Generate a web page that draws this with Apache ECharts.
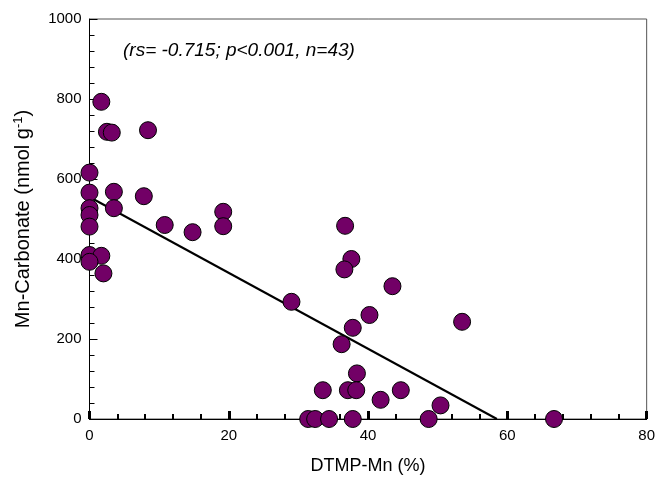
<!DOCTYPE html>
<html>
<head>
<meta charset="utf-8">
<script src="https://cdn.jsdelivr.net/npm/echarts@6/dist/echarts.min.js"></script>
<style>
  html, body { margin: 0; padding: 0; background: #fff; }
  #chart { width: 658px; height: 481px; }
</style>
</head>
<body>
<div id="chart"></div>
<script>
// DTMP-Mn (%) vs Mn-Carbonate (nmol g-1)
const dtmpMn = [
  1.7, 2.5, 3.2, 8.4, 0, 0, 3.5, 7.8, 0, 3.5, 0, 0, 10.8, 14.8, 19.2, 19.2, 36.7,
  0, 1.7, 0, 2.0, 29.0, 36.2, 37.6, 36.6, 43.5, 40.2, 53.5, 37.8, 38.4,
  33.5, 37.1, 38.3, 44.7, 41.8, 50.4,
  31.4, 32.4, 34.4, 37.8, 48.7, 66.7
]
const mnCarbonate = [
  793, 718, 716, 722, 616, 566, 568, 557, 527, 527, 510, 481, 485, 467, 518, 482, 483,
  410, 408, 393, 364, 293, 187, 400, 374, 332, 260, 243, 228, 114,
  72, 72, 72, 72, 48, 34,
  0, 0, 0, 0, 0, 0
]
// regression line end points
const fitX = [0, 58.5]
const fitY = [555, 0]

const chart = echarts.init(document.getElementById('chart'))

const font = 'Liberation Sans, Arial, sans-serif'
const axisText = { color: '#000', fontSize: 15, fontFamily: font }

const option = {
  animation: false,
  grid: {
    left: 89.5,
    right: 6.5,
    top: 19,
    bottom: 62,
    show: true,
    borderColor: '#555',
    borderWidth: 1
  },
  graphic: [{
    type: 'text',
    left: 123,
    top: 41,
    style: {
      text: '(rs= -0.715; p<0.001, n=43)',
      font: 'italic 19px "Liberation Sans", Arial, sans-serif',
      fill: '#000'
    }
  }],
  xAxis: {
    type: 'value',
    min: 0,
    max: 80,
    interval: 20,
    name: 'DTMP-Mn (%)',
    nameLocation: 'middle',
    nameGap: 38,
    nameTextStyle: { color: '#000', fontSize: 18, fontFamily: font },
    axisLine: { lineStyle: { color: '#000', width: 1 } },
    axisTick: { inside: true, length: 8, lineStyle: { color: '#000', width: 3 } },
    minorTick: { show: true, splitNumber: 5, length: 5, lineStyle: { color: '#000', width: 2 } },
    axisLabel: { ...axisText, margin: 9 },
    splitLine: { show: false }
  },
  yAxis: {
    type: 'value',
    min: 0,
    max: 1000,
    interval: 200,
    name: '{n|Mn-Carbonate (nmol g}{s|-1}{n|)}',
    nameLocation: 'middle',
    nameRotate: 90,
    nameGap: 55,
    nameTextStyle: {
      rich: {
        n: { color: '#000', fontSize: 20, fontFamily: font },
        s: { color: '#000', fontSize: 13, fontFamily: font, verticalAlign: 'top', padding: [0, 0, 10, 0] }
      }
    },
    axisLine: { show: true, lineStyle: { color: '#000', width: 1 } },
    axisTick: { inside: true, length: 8, lineStyle: { color: '#000', width: 1 } },
    minorTick: { show: true, splitNumber: 5, length: 5, lineStyle: { color: '#000', width: 1 } },
    axisLabel: { ...axisText, margin: 8, formatter: v => String(v) },
    splitLine: { show: false }
  },
  series: [
    {
      type: 'line',
      data: fitX.map((x, i) => [x, fitY[i]]),
      symbol: 'none',
      lineStyle: { color: '#000', width: 2 },
      z: 2
    },
    {
      type: 'scatter',
      data: dtmpMn.map((x, i) => [x, mnCarbonate[i]]),
      symbolSize: 17,
      itemStyle: { color: '#720066', borderColor: '#000', borderWidth: 1, opacity: 1 },
      z: 3
    }
  ]
}

chart.setOption(option)
</script>
</body>
</html>
